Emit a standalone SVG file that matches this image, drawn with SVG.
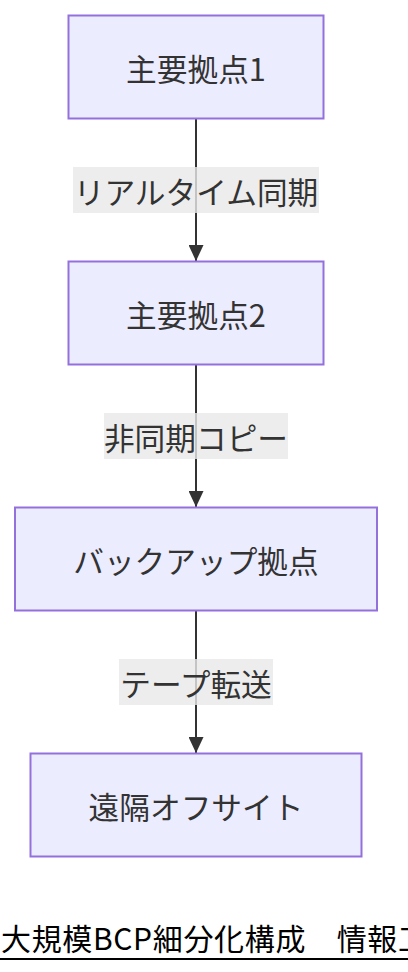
<svg xmlns="http://www.w3.org/2000/svg" width="408" height="972" viewBox="0 0 408 972">
<defs>
<style>
.node rect{fill:#ECECFF;stroke:#9370DB;stroke-width:2;}
.node text,.label text{font-family:"Noto Sans CJK JP","Noto Sans",sans-serif;font-size:30.7px;fill:#333;text-anchor:middle;dominant-baseline:central;}
.label rect{fill:rgba(232,232,232,0.8);}
.edge{stroke:#333;stroke-width:2;fill:none;}
.title{font-family:"Noto Sans CJK JP","Noto Sans",sans-serif;font-size:30px;fill:#000;}
</style>
<marker id="arrow" viewBox="0 0 16 15" refX="16" refY="7.5" markerWidth="16" markerHeight="15" markerUnits="userSpaceOnUse" orient="auto">
<path d="M0,0 L16,7.5 L0,15 Z" fill="#333"/>
</marker>
</defs>
<rect width="408" height="972" fill="#fff"/>
<g id="connectors">
<line class="edge" x1="196" y1="119" x2="196" y2="261" marker-end="url(#arrow)"/>
<line class="edge" x1="196" y1="365" x2="196" y2="507" marker-end="url(#arrow)"/>
<line class="edge" x1="196" y1="611" x2="196" y2="753" marker-end="url(#arrow)"/>
</g>
<g id="edge-labels">
<g class="label" id="label1"><rect x="73" y="167" width="246" height="46"/><text x="196" y="190">リアルタイム同期</text></g>
<g class="label" id="label2"><rect x="104" y="413" width="184" height="46"/><text x="196" y="436">非同期コピー</text></g>
<g class="label" id="label3"><rect x="119" y="659" width="154" height="46"/><text x="196" y="682">テープ転送</text></g>
</g>
<g class="node" id="site1"><rect x="68.5" y="15.5" width="255" height="103"/><text x="196" y="67">主要拠点1</text></g>
<g class="node" id="site2"><rect x="68.5" y="261.5" width="255" height="103"/><text x="196" y="313">主要拠点2</text></g>
<g class="node" id="backup"><rect x="15" y="507.5" width="362" height="103"/><text x="196" y="559">バックアップ拠点</text></g>
<g class="node" id="offsite"><rect x="30.5" y="753.5" width="331" height="103"/><text x="196" y="805">遠隔オフサイト</text></g>
<g id="title">
<text class="title" x="1" y="950" textLength="427" lengthAdjust="spacing">大規模BCP細分化構成　情報工</text>
<line x1="0" y1="959" x2="408" y2="959" stroke="#000" stroke-width="2"/>
</g>
</svg>
